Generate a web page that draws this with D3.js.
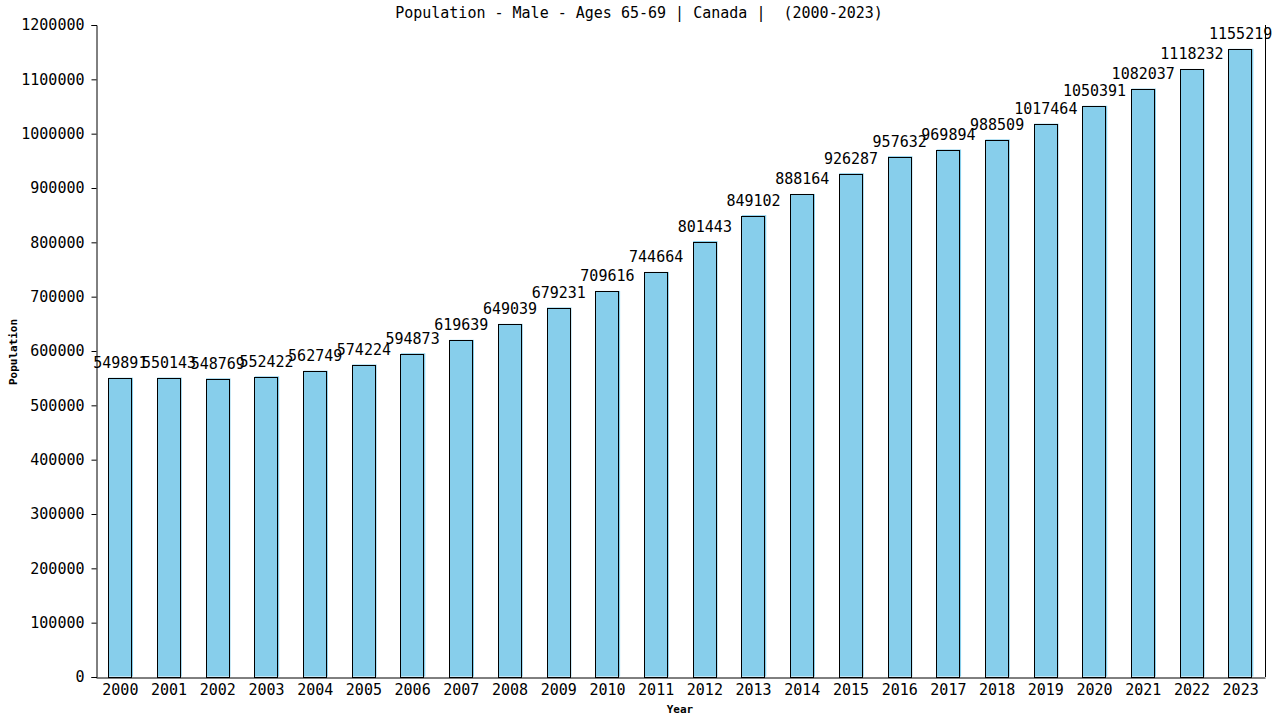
<!DOCTYPE html>
<html>
<head>
<meta charset="utf-8">
<script src="https://cdn.jsdelivr.net/npm/d3@7"></script>
<style>
  body { margin: 0; background: #fff; }
  svg { display: block; }
  text { font-family: "DejaVu Sans Mono", "Liberation Mono", monospace; }
</style>
</head>
<body>
<svg id="chart" width="1280" height="720"></svg>
<script>
const years = ["2000","2001","2002","2003","2004","2005","2006","2007","2008","2009","2010","2011","2012","2013","2014","2015","2016","2017","2018","2019","2020","2021","2022","2023"];
const population = [549891,550143,548769,552422,562749,574224,594873,619639,649039,679231,709616,744664,801443,849102,888164,926287,957632,969894,988509,1017464,1050391,1082037,1118232,1155219];
const yTicks = [0,100000,200000,300000,400000,500000,600000,700000,800000,900000,1000000,1100000,1200000];
const titleText = "Population - Male - Ages 65-69 | Canada |  (2000-2023)";
const xTitle = "Year";
const yTitle = "Population";

const svg = d3.select("#chart");
const margin = {left: 96, right: 15, top: 25, bottom: 43};
const W = 1280, H = 720;

const x = d3.scaleBand().domain(years).range([margin.left, W - margin.right]).padding(0.5).paddingOuter(0.25);
const y = d3.scaleLinear().domain([0, 1200000]).range([H - margin.bottom, margin.top]);

// bars: fill with slight offset shadow + black outline
const g = svg.append("g");
g.selectAll("rect.fill").data(population).enter().append("rect")
  .attr("class","fill")
  .attr("x", (d,i) => x(years[i]) + 0.5)
  .attr("y", d => y(d) - 0.5)
  .attr("width", x.bandwidth())
  .attr("height", d => y(0) - y(d))
  .attr("fill", "#87CEEB");
g.selectAll("rect.outline").data(population).enter().append("rect")
  .attr("class","outline")
  .attr("x", (d,i) => Math.round(x(years[i])) + 0.5)
  .attr("y", d => Math.round(y(d)) + 0.5)
  .attr("width", Math.round(x.bandwidth()) - 1)
  .attr("height", d => y(0) - Math.round(y(d)))
  .attr("fill", "none")
  .attr("stroke", "#000")
  .attr("stroke-width", 1);

// value labels
g.selectAll("text.val").data(population).enter().append("text")
  .attr("class","val")
  .attr("x", (d,i) => x(years[i]) + x.bandwidth()/2)
  .attr("y", d => y(d) - 10)
  .attr("text-anchor","middle")
  .attr("font-size", "15px")
  .attr("fill","#000")
  .text(d => d);

// y axis
const yAxis = d3.axisLeft(y).tickValues(yTicks).tickFormat(d3.format("d")).tickSizeOuter(0).tickSize(5).tickPadding(7);
const ya = svg.append("g").attr("transform", `translate(${margin.left + 0.5},0)`).call(yAxis);
ya.selectAll("text").attr("font-size","15px").attr("font-family","DejaVu Sans Mono, monospace").attr("fill","#000");
ya.selectAll("line,path").attr("stroke","#000");

// x axis
const xAxis = d3.axisBottom(x).tickSize(0).tickSizeOuter(0).tickPadding(7);
const xa = svg.append("g").attr("transform", `translate(0,${y(0) + 0.5})`).call(xAxis);
xa.selectAll("text").attr("font-size","15px").attr("font-family","DejaVu Sans Mono, monospace").attr("fill","#000");
xa.select("path").attr("stroke","#000");

// right border line
svg.append("line")
  .attr("x1", W - margin.right + 0.5).attr("x2", W - margin.right + 0.5)
  .attr("y1", margin.top).attr("y2", y(0))
  .attr("stroke","#000");

// title
svg.append("text")
  .attr("x", 639).attr("y", 18)
  .attr("text-anchor","middle")
  .attr("font-size","15px")
  .style("white-space","pre")
  .attr("xml:space","preserve")
  .text(titleText);

// axis titles
svg.append("text")
  .attr("x", 680).attr("y", 713)
  .attr("text-anchor","middle")
  .attr("font-size","11px")
  .attr("font-weight","bold")
  .text(xTitle);
svg.append("text")
  .attr("transform", "translate(17,352) rotate(-90)")
  .attr("text-anchor","middle")
  .attr("font-size","11px")
  .attr("font-weight","bold")
  .text(yTitle);
</script>
</body>
</html>
